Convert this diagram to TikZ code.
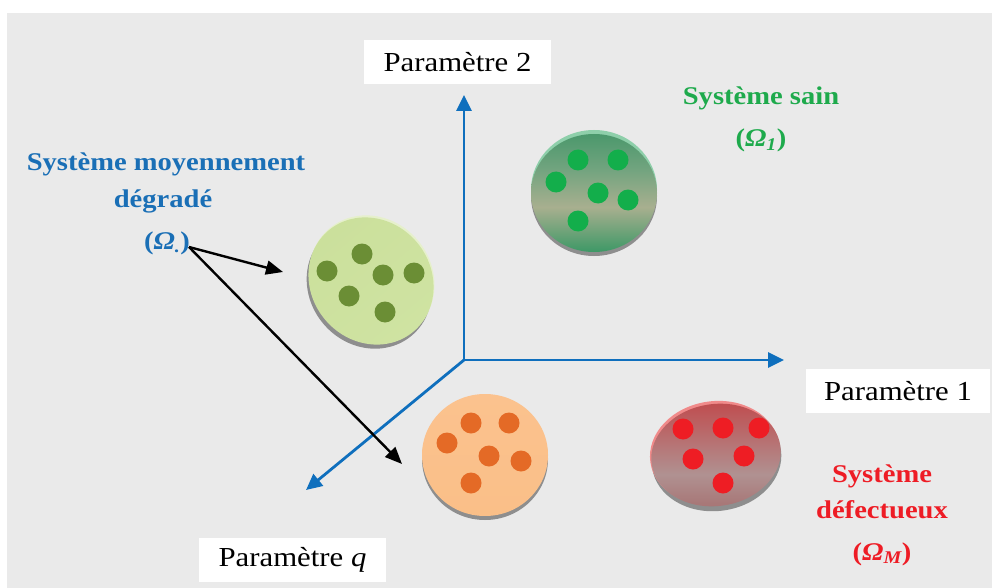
\documentclass[tikz,border=0pt]{standalone}
\usepackage{fontspec}
\setmainfont{Liberation Serif}[FakeStretch=1.12]
\usetikzlibrary{arrows.meta}
\definecolor{bg}{HTML}{EAEAEA}
\definecolor{axisblue}{HTML}{0F6FBD}
\definecolor{txtblue}{HTML}{1A6FB6}
\definecolor{txtgreen}{HTML}{1EAA4C}
\definecolor{txtred}{HTML}{EE1C25}
\definecolor{shadowc}{HTML}{8E8E8E}
\definecolor{gT}{HTML}{4B986C}
\definecolor{gU}{HTML}{72A47F}
\definecolor{gM}{HTML}{A8AF8F}
\definecolor{gB}{HTML}{3D9866}
\definecolor{gRim}{HTML}{8ECFAA}
\definecolor{gDot}{HTML}{13AE4B}
\definecolor{rT}{HTML}{BF4F51}
\definecolor{rM}{HTML}{B09191}
\definecolor{rB}{HTML}{A67272}
\definecolor{rRim}{HTML}{F08A8A}
\definecolor{rDot}{HTML}{EE1D24}
\definecolor{oT}{HTML}{FBC28E}
\definecolor{oM}{HTML}{FCD0A7}
\definecolor{oB}{HTML}{FABF88}
\definecolor{oDot}{HTML}{E46A26}
\definecolor{yA}{HTML}{CBE09C}
\definecolor{yM}{HTML}{DEEBBB}
\definecolor{yB}{HTML}{CFE3A2}
\definecolor{yRim}{HTML}{E6F0CC}
\definecolor{yDot}{HTML}{6B8E35}
\pgfdeclareverticalshading{gshade}{100bp}{color(0bp)=(gB); color(25bp)=(gB); color(44bp)=(gM); color(60bp)=(gU); color(75bp)=(gT); color(100bp)=(gT)}
\pgfdeclareverticalshading{rshade}{100bp}{color(0bp)=(rB); color(25bp)=(rB); color(42bp)=(rM); color(75bp)=(rT); color(100bp)=(rT)}
\begin{document}
\begin{tikzpicture}[x=1pt,y=-1pt,
  axis/.style={draw=axisblue, line width=2.8pt, -{Triangle[length=16pt,width=15pt]}},
  pointer/.style={draw=black, line width=2.4pt, -{Triangle[length=17pt,width=14pt]}},
  parbox/.style={fill=white, inner sep=0pt, minimum width=187pt, minimum height=44pt,
     font=\fontsize{27.5}{33}\selectfont},
  lblue/.style={text=txtblue, inner sep=0pt, anchor=base, font=\fontsize{25.5}{30}\selectfont\bfseries},
  lgreen/.style={lblue, text=txtgreen},
  lred/.style={lblue, text=txtred},
  shadow/.style={fill=shadowc},
  dotg/.style={fill=gDot},
  doty/.style={fill=yDot},
  doto/.style={fill=oDot},
  dotr/.style={fill=rDot}]
\useasboundingbox (0,0) rectangle (992,588);
\fill[white] (0,0) rectangle (992,588);
\fill[bg] (7,13) rectangle (992,588);

% label boxes
\node[parbox] (p2) at (457.5,62) {Paramètre 2};
\node[parbox, minimum width=184pt] (p1) at (898,391) {Paramètre 1};
\node[parbox] (pq) at (292.5,559.5) {Paramètre \textit{q}};

% axes
\coordinate (O) at (464,360);
\coordinate (Xend) at (784,360);
\coordinate (Yend) at (464,95);
\coordinate (Qend) at (306,490);
\draw[axis] (O) -- (Xend);
\draw[axis] (O) -- (Yend);
\draw[axis] (O) -- (Qend);

% green blob (sain)
\fill[shadow] (594,196) ellipse [x radius=63, y radius=60];
\fill[gRim] (594,190) ellipse [x radius=63, y radius=60];
\shade[shading=gshade] (594,193) ellipse [x radius=63, y radius=59];
\foreach \p in {(578,160),(618,160),(556,182),(598,193),(628,200),(578,221)}
  \fill[dotg] \p circle (10.5);

% yellow-green blob (moyennement degrade)
\begin{scope}[shift={(371,281)}, rotate=-50]
  \fill[shadow] (2,4) ellipse [x radius=66, y radius=60];
  \fill[yRim] (-1,-2) ellipse [x radius=66, y radius=60];
  \shade[top color=yA, middle color=yM, bottom color=yB, shading angle=40]
     (0,0) ellipse [x radius=66, y radius=60];
\end{scope}
\foreach \p in {(362,254),(327,271),(383,275),(414,273),(349,296),(385,312)}
  \fill[doty] \p circle (10.5);

% orange blob
\fill[shadow] (485,459) ellipse [x radius=63, y radius=61];
\shade[top color=oT, middle color=oM, bottom color=oB] (485,455) ellipse [x radius=63, y radius=61];
\foreach \p in {(471,423),(509,423),(447,443),(489,456),(521,461),(471,483)}
  \fill[doto] \p circle (10.5);

% red blob
\begin{scope}[shift={(716,455)}, rotate=8]
  \fill[shadow] (0,4) ellipse [x radius=65, y radius=52];
  \fill[rRim] (-1,-2) ellipse [x radius=65, y radius=52];
  \shade[shading=rshade] (0,0) ellipse [x radius=65, y radius=51];
\end{scope}
\foreach \p in {(683,429),(723,428),(759,428),(693,459),(744,456),(723,483)}
  \fill[dotr] \p circle (10.5);

% labels
\node[lgreen] (s1) at (761,105) {Système sain};
\node[lgreen] (s2) at (761,147) {(\textit{Ω\textsubscript{1}})};

\node[lblue] (m1) at (166,171) {Système moyennement};
\node[lblue] (m2) at (163,207) {dégradé};
\node[lblue] (m3) at (167,249) {(\textit{Ω\textsubscript{.}})};

\node[lred] (d1) at (882,482) {Système};
\node[lred] (d2) at (882,518) {défectueux};
\node[lred] (d3) at (882,560) {(\textit{Ω\textsubscript{M}})};

% pointers
\coordinate (src) at (189,247);
\coordinate (tipA) at (283,272);
\coordinate (tipB) at (402,464);
\draw[pointer] (src) -- (tipA);
\draw[pointer] (src) -- (tipB);
\end{tikzpicture}
\end{document}
